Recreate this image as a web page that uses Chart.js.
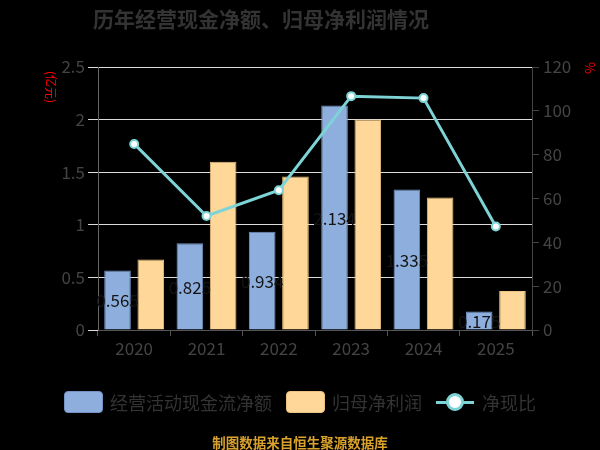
<!DOCTYPE html>
<html>
<head>
<meta charset="utf-8">
<script src="https://cdn.jsdelivr.net/npm/chart.js@4.4.0/dist/chart.umd.min.js"></script>
<style>
  html, body { margin: 0; padding: 0; background: #000; }
  #wrap { position: relative; width: 600px; height: 450px; font-family: "Noto Sans CJK SC", sans-serif; }
  #chart { position: absolute; left: 0; top: 0; }
  #title { position: absolute; left: 0; top: 3px; width: 522px; text-align: center;
           font-size: 21px; font-weight: bold; color: #333; line-height: 30px; }
  #legend { position: absolute; left: 0; top: 389px; width: 600px; height: 26px;
            display: flex; justify-content: center; align-items: center; }
  .item { display: flex; align-items: center; margin: 0 7px; font-size: 18px; color: #333; }
  .box { width: 39px; height: 22px; border-radius: 4px; margin-right: 7px; box-sizing: border-box; }
  .lineMark { position: relative; width: 38px; height: 22px; margin-right: 8px; }
  .lineMark .bar { position: absolute; left: 0; top: 10px; width: 38px; height: 3px; }
  .lineMark .dot { position: absolute; left: 10px; top: 2px; width: 18px; height: 18px; border-radius: 50%;
                   background: #fff; box-sizing: border-box; }
  #footer { position: absolute; left: 0; top: 432px; width: 600px; text-align: center;
            font-size: 13.5px; font-weight: bold; color: #d9a22c; line-height: 20px; }
</style>
</head>
<body>
<div id="wrap">
  <canvas id="chart" width="600" height="450"></canvas>
  <div id="title">历年经营现金净额、归母净利润情况</div>
  <div id="legend"></div>
  <div id="footer">制图数据来自恒生聚源数据库</div>
</div>
<script>
const years = ['2020', '2021', '2022', '2023', '2024', '2025'];
const cashFlow = [0.565, 0.825, 0.934, 2.134, 1.335, 0.175];   // 亿元
const netProfit = [0.67, 1.60, 1.46, 2.00, 1.26, 0.37];         // 亿元
const cashRatio = [84.9, 52.0, 63.8, 106.7, 105.8, 47.2];       // %
const leftTicks = [0, 0.5, 1, 1.5, 2, 2.5];
const rightTicks = [0, 20, 40, 60, 80, 100, 120];

const blue = '#8eafdd';
const orange = '#ffd899';
const teal = '#7dd3d5';

// value labels in the middle of the blue bars
const barLabels = {
  id: 'barLabels',
  afterDatasetsDraw(chart) {
    const ctx = chart.ctx;
    const meta = chart.getDatasetMeta(0);
    ctx.save();
    ctx.font = '17px "Noto Sans CJK SC", sans-serif';
    ctx.fillStyle = '#141414';
    ctx.textAlign = 'center';
    ctx.textBaseline = 'middle';
    meta.data.forEach((bar, i) => {
      const p = bar.getProps(['x', 'y', 'base'], true);
      ctx.fillText(cashFlow[i].toFixed(3), p.x, (p.y + p.base) / 2 + 1);
    });
    ctx.restore();
  }
};

// unit labels next to the two y axes
const unitLabels = {
  id: 'unitLabels',
  afterDraw(chart) {
    const ctx = chart.ctx;
    ctx.save();
    ctx.fillStyle = '#f00';
    ctx.textAlign = 'center';
    ctx.textBaseline = 'middle';
    ctx.font = '12px "Noto Sans CJK SC", sans-serif';
    ctx.translate(51, 87);
    ctx.rotate(Math.PI / 2);
    ctx.fillText('(亿元)', 0, 0);
    ctx.restore();
    ctx.save();
    ctx.fillStyle = '#f00';
    ctx.textAlign = 'center';
    ctx.textBaseline = 'middle';
    ctx.font = '13px "Noto Sans CJK SC", sans-serif';
    ctx.translate(590, 68);
    ctx.rotate(Math.PI / 2);
    ctx.fillText('%', 0, 0);
    ctx.restore();
  }
};

const tickFont = { family: '"Noto Sans CJK SC", sans-serif', size: 17 };

const chart = new Chart(document.getElementById('chart').getContext('2d'), {
  type: 'bar',
  data: {
    labels: years,
    datasets: [
      {
        label: '经营活动现金流净额',
        data: cashFlow,
        backgroundColor: blue,
        borderColor: '#7393c4',
        borderWidth: 1,
        yAxisID: 'y',
        order: 1,
        categoryPercentage: 0.92,
        barPercentage: 0.8
      },
      {
        label: '归母净利润',
        data: netProfit,
        backgroundColor: orange,
        borderColor: '#ecc382',
        borderWidth: 1,
        yAxisID: 'y',
        order: 1,
        categoryPercentage: 0.92,
        barPercentage: 0.8
      },
      {
        type: 'line',
        label: '净现比',
        data: cashRatio,
        borderColor: teal,
        borderWidth: 3,
        pointRadius: 4,
        pointBorderWidth: 2,
        pointBackgroundColor: '#fff',
        pointBorderColor: teal,
        tension: 0,
        yAxisID: 'y1',
        order: 0
      }
    ]
  },
  options: {
    responsive: false,
    animation: false,
    layout: { padding: { left: 0, right: 0, top: 67, bottom: 90 } },
    plugins: {
      legend: { display: false },
      title: { display: false },
      tooltip: { enabled: false }
    },
    scales: {
      x: {
        grid: { display: true, drawOnChartArea: false, color: '#555', tickLength: 6, offset: true },
        border: { color: '#555' },
        ticks: { color: '#444', font: tickFont, padding: 2 },
        afterFit: s => { s.height = 30; }
      },
      y: {
        position: 'left',
        min: leftTicks[0],
        max: leftTicks[leftTicks.length - 1],
        ticks: {
          stepSize: leftTicks[1] - leftTicks[0],
          color: '#444',
          font: tickFont,
          padding: 3,
          callback: v => String(v)
        },
        grid: { color: '#dcdcdc', tickLength: 10 },
        border: { color: '#666' },
        afterFit: s => { s.width = 98; }
      },
      y1: {
        position: 'right',
        min: rightTicks[0],
        max: rightTicks[rightTicks.length - 1],
        ticks: {
          stepSize: rightTicks[1] - rightTicks[0],
          color: '#444',
          font: tickFont,
          padding: 4,
          callback: v => String(v)
        },
        grid: { drawOnChartArea: false, color: '#444', tickLength: 7 },
        border: { color: '#444' },
        afterFit: s => { s.width = 68; }
      }
    }
  },
  plugins: [barLabels, unitLabels]
});

// legend in html, built from the datasets
const legend = document.getElementById('legend');
chart.data.datasets.forEach(ds => {
  const item = document.createElement('div');
  item.className = 'item';
  if (ds.type === 'line') {
    item.innerHTML = '<div class="lineMark"><div class="bar" style="background:' + ds.borderColor +
      '"></div><div class="dot" style="border:3px solid ' + ds.borderColor + '"></div></div>';
  } else {
    item.innerHTML = '<div class="box" style="background:' + ds.backgroundColor +
      ';border:1px solid ' + ds.borderColor + '"></div>';
  }
  const span = document.createElement('span');
  span.textContent = ds.label;
  item.appendChild(span);
  legend.appendChild(item);
});
</script>
</body>
</html>
